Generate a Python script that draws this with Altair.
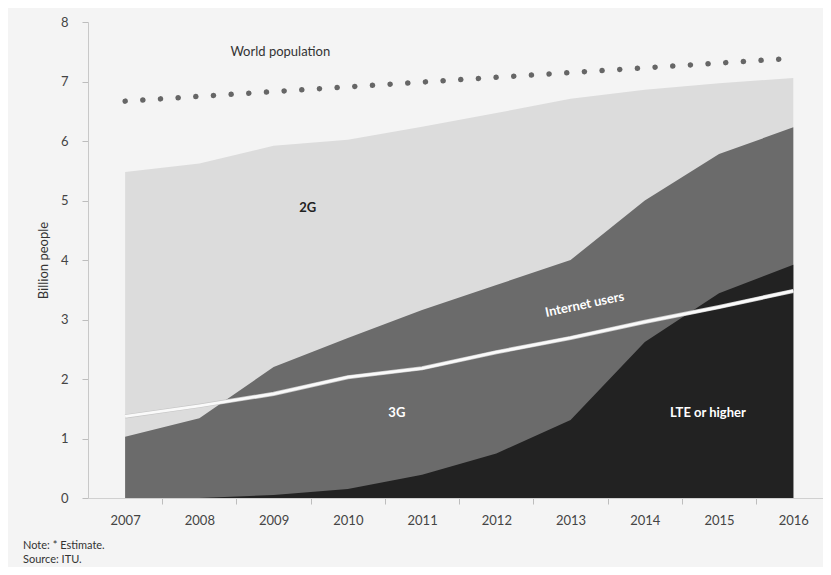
import altair as alt
import pandas as pd

years = [2007, 2008, 2009, 2010, 2011, 2012, 2013, 2014, 2015, 2016]
total_top = [5.48, 5.62, 5.92, 6.02, 6.24, 6.47, 6.71, 6.86, 6.97, 7.06]   # 2G top (all mobile)
g3_top = [1.03, 1.34, 2.20, 2.69, 3.16, 3.58, 4.00, 5.00, 5.78, 6.23]      # 3G top
lte_top = [0.00, 0.00, 0.05, 0.15, 0.39, 0.75, 1.31, 2.62, 3.44, 3.92]     # LTE or higher
internet = [1.37, 1.55, 1.75, 2.03, 2.18, 2.45, 2.69, 2.96, 3.21, 3.48]
population = [6.67, 6.75, 6.83, 6.91, 6.99, 7.07, 7.15, 7.23, 7.31, 7.39]

bold_text = ["2G", "3G", "LTE or higher"]
bold_x = [2009.46, 2010.66, 2014.85]
bold_y = [4.87, 1.43, 1.43]
bold_color = ["#222222", "#ffffff", "#ffffff"]

note_lines = ["Note: * Estimate.", "Source: ITU."]
note_pos = [524, 538]

df = pd.DataFrame({"year": years, "total": total_top, "g3": g3_top, "lte": lte_top,
                   "internet": internet, "pop": population})
bold_df = pd.DataFrame({"text": bold_text, "x": bold_x, "y": bold_y, "c": bold_color})

FONT = "Lato"
tick_vals = [2007 + i * 0.5 for i in range(19)]

x = alt.X("year:Q", scale=alt.Scale(domain=[2006.5, 2016.4], nice=False, zero=False),
          axis=alt.Axis(values=tick_vals, title=None, grid=False,
                        labelExpr="datum.value % 1 === 0 ? format(datum.value, 'd') : ''",
                        tickOpacity={"condition": {"test": "datum.value % 1 === 0", "value": 0}, "value": 1},
                        tickSize=6, tickColor="#bdbdbd", domainColor="#d0d0d0",
                        labelFontSize=13, labelColor="#444444", labelFont=FONT,
                        labelPadding=10, labelFlush=False))
y = alt.Y("total:Q", scale=alt.Scale(domain=[0, 8], nice=False),
          axis=alt.Axis(values=list(range(9)), format="d", title="Billion people", grid=False,
                        tickSize=6, tickColor="#bdbdbd", domainColor="#c8c8c8",
                        labelFontSize=13, labelColor="#444444", labelFont=FONT,
                        labelPadding=14, titleFont=FONT, titleFontSize=13,
                        titleFontWeight="normal", titleColor="#333333", titlePadding=10))

base = alt.Chart(df)
a2 = base.mark_area(color="#dcdcdc", opacity=1).encode(x=x, y=y)
a3 = base.mark_area(color="#6b6b6b", opacity=1).encode(x="year:Q", y="g3:Q")
a4 = base.mark_area(color="#222222", opacity=1).encode(x="year:Q", y="lte:Q")
net_halo = base.mark_line(color="#c6c6c6", strokeWidth=4.2).encode(x="year:Q", y="internet:Q")
net = base.mark_line(color="#fafafa", strokeWidth=2.8).encode(x="year:Q", y="internet:Q")
pop = base.mark_line(color="#666666", strokeWidth=5.5, strokeCap="round",
                     strokeDash=[0.1, 17.6]).encode(x="year:Q", y="pop:Q")

bold_labels = alt.Chart(bold_df).mark_text(font=FONT, fontSize=13, fontWeight="bold").encode(
    x="x:Q", y="y:Q", text="text:N", color=alt.Color("c:N", scale=None))

world_label = alt.Chart(pd.DataFrame({"t": ["World population"], "x": [2009.09], "y": [7.5]})).mark_text(
    font=FONT, fontSize=13, color="#333333").encode(x="x:Q", y="y:Q", text="t:N")

net_label = alt.Chart(pd.DataFrame({"t": ["Internet users"], "x": [2013.19], "y": [3.25]})).mark_text(
    font=FONT, fontSize=13, fontWeight="bold", color="#ffffff", angle=348).encode(
    x="x:Q", y="y:Q", text="t:N")

notes = alt.Chart(pd.DataFrame({"t": note_lines, "yy": note_pos})).mark_text(
    font=FONT, fontSize=11, color="#333333", align="left", baseline="middle").encode(
    x=alt.value(-65), y=alt.Y("yy:Q", scale=None), text="t:N")

chart = alt.layer(a2, a3, a4, net_halo, net, pop, bold_labels, world_label, net_label, notes).properties(
    width=735, height=476,
    background="#f4f4f4",
    padding={"left": 80, "top": 14, "right": 0, "bottom": 69},
    autosize=alt.AutoSizeParams(type="none"),
).configure_view(stroke=None)

chart.save("out.html", embed_options={"renderer": "svg", "actions": False})
